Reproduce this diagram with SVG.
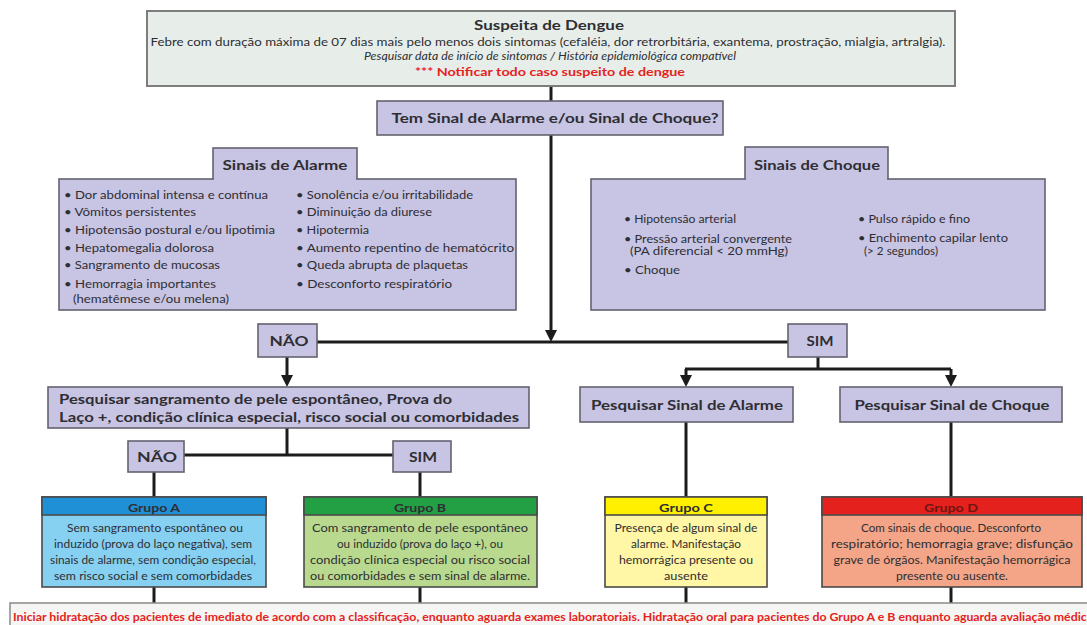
<svg xmlns="http://www.w3.org/2000/svg" width="1087" height="625" viewBox="0 0 1087 625">
<defs>
<style>
text{font-family:Lato,"Liberation Sans",sans-serif;fill:#2e2e33;dominant-baseline:central}
.lav{fill:#c8c4e3;stroke:#64636f;stroke-width:1.6}
.b{font-weight:bold}
.c{text-anchor:middle}
.t13{font-size:13.5px}
.t12{font-size:13px}
.t11{font-size:12px}
.t10{font-size:11.5px}
.red{fill:#e5231d}
.gbox{stroke:#4a4a4a;stroke-width:1.6}
.con line{stroke:#1c1c1c;stroke-width:3;fill:none}
</style>
<marker id="ah" viewBox="0 0 12 12" markerUnits="userSpaceOnUse" markerWidth="12" markerHeight="12" refX="4" refY="6" orient="auto">
<path d="M0,0 L12,6 L0,12 z" fill="#1c1c1c"/>
</marker>
</defs>
<rect width="1087" height="625" fill="#ffffff"/>

<g class="con">
<line x1="551" y1="86" x2="551" y2="102"/>
<line x1="551" y1="135" x2="551" y2="334" marker-end="url(#ah)"/>
<line x1="317" y1="342" x2="788" y2="342"/>
<line x1="287" y1="357" x2="287" y2="379" marker-end="url(#ah)"/>
<line x1="818" y1="357" x2="818" y2="369"/>
<line x1="685" y1="369" x2="951" y2="369"/>
<line x1="686" y1="369" x2="686" y2="379" marker-end="url(#ah)"/>
<line x1="951" y1="369" x2="951" y2="379" marker-end="url(#ah)"/>
<line x1="287" y1="428" x2="287" y2="455"/>
<line x1="184" y1="455" x2="393" y2="455"/>
<line x1="154" y1="472" x2="154" y2="497"/>
<line x1="420" y1="472" x2="420" y2="497"/>
<line x1="686" y1="422" x2="686" y2="497"/>
<line x1="951" y1="422" x2="951" y2="497"/>
<line x1="154" y1="587" x2="154" y2="603"/>
<line x1="420" y1="587" x2="420" y2="603"/>
<line x1="686" y1="587" x2="686" y2="603"/>
<line x1="951" y1="587" x2="951" y2="603"/>
</g>

<g id="suspeita">
<rect x="147" y="11" width="808" height="75" fill="#e7eeea" stroke="#7d7d7d" stroke-width="2"/>
<text class="b c t13" x="549" y="25" textLength="150" lengthAdjust="spacingAndGlyphs">Suspeita de Dengue</text>
<text class="c t11" x="548" y="41" textLength="795" lengthAdjust="spacingAndGlyphs">Febre com duração máxima de 07 dias mais pelo menos dois sintomas (cefaléia, dor retrorbitária, exantema, prostração, mialgia, artralgia).</text>
<text class="c t10" x="550" y="55" font-style="italic" textLength="372" lengthAdjust="spacingAndGlyphs">Pesquisar data de início de sintomas / História epidemiológica compatível</text>
<text class="b c t11 red" x="550" y="71" textLength="270" lengthAdjust="spacingAndGlyphs">*** Notificar todo caso suspeito de dengue</text>
</g>

<g id="pergunta">
<rect class="lav" x="377" y="101" width="346" height="34"/>
<text class="b c t13" x="555" y="118" textLength="327" lengthAdjust="spacingAndGlyphs">Tem Sinal de Alarme e/ou Sinal de Choque?</text>
</g>

<g id="sinais-alarme">
<rect class="lav" x="213" y="148" width="144" height="32"/>
<rect class="lav" x="59" y="179" width="457" height="131"/>
<rect x="214" y="177" width="142" height="4" fill="#c8c4e3"/>
<text class="b c t13" x="285" y="165" textLength="125" lengthAdjust="spacingAndGlyphs">Sinais de Alarme</text>
<g class="t11">
<text x="64" y="194" textLength="204" lengthAdjust="spacingAndGlyphs">• Dor abdominal intensa e contínua</text>
<text x="64" y="211" textLength="132" lengthAdjust="spacingAndGlyphs">• Vômitos persistentes</text>
<text x="64" y="229" textLength="211" lengthAdjust="spacingAndGlyphs">• Hipotensão postural e/ou lipotimia</text>
<text x="64" y="247" textLength="150" lengthAdjust="spacingAndGlyphs">• Hepatomegalia dolorosa</text>
<text x="64" y="264" textLength="156" lengthAdjust="spacingAndGlyphs">• Sangramento de mucosas</text>
<text x="64" y="283" textLength="152" lengthAdjust="spacingAndGlyphs">• Hemorragia importantes</text>
<text x="73" y="298" textLength="156" lengthAdjust="spacingAndGlyphs">(hematêmese e/ou melena)</text>
<text x="296" y="194" textLength="177" lengthAdjust="spacingAndGlyphs">• Sonolência e/ou irritabilidade</text>
<text x="296" y="211" textLength="136" lengthAdjust="spacingAndGlyphs">• Diminuição da diurese</text>
<text x="296" y="229" textLength="73" lengthAdjust="spacingAndGlyphs">• Hipotermia</text>
<text x="296" y="247" textLength="218" lengthAdjust="spacingAndGlyphs">• Aumento repentino de hematócrito</text>
<text x="296" y="264" textLength="172" lengthAdjust="spacingAndGlyphs">• Queda abrupta de plaquetas</text>
<text x="296" y="283" textLength="156" lengthAdjust="spacingAndGlyphs">• Desconforto respiratório</text>
</g>
</g>

<g id="sinais-choque">
<rect class="lav" x="745" y="147" width="143" height="33"/>
<rect class="lav" x="591" y="179" width="454" height="131"/>
<rect x="746" y="177" width="141" height="4" fill="#c8c4e3"/>
<text class="b c t13" x="817" y="165" textLength="126" lengthAdjust="spacingAndGlyphs">Sinais de Choque</text>
<g class="t10">
<text x="624" y="218" textLength="112" lengthAdjust="spacingAndGlyphs">• Hipotensão arterial</text>
<text x="624" y="238" textLength="168" lengthAdjust="spacingAndGlyphs">• Pressão arterial convergente</text>
<text x="630" y="250" textLength="158" lengthAdjust="spacingAndGlyphs">(PA diferencial &lt; 20 mmHg)</text>
<text x="624" y="269" textLength="56" lengthAdjust="spacingAndGlyphs">• Choque</text>
<text x="858" y="218" textLength="112" lengthAdjust="spacingAndGlyphs">• Pulso rápido e fino</text>
<text x="858" y="237" textLength="150" lengthAdjust="spacingAndGlyphs">• Enchimento capilar lento</text>
<text x="864" y="250" textLength="74" lengthAdjust="spacingAndGlyphs">(&gt; 2 segundos)</text>
</g>
</g>

<g id="nao1">
<rect class="lav" x="258" y="324" width="59" height="33"/>
<text class="b c t13" x="289" y="341" textLength="39" lengthAdjust="spacingAndGlyphs">NÃO</text>
</g>
<g id="sim1">
<rect class="lav" x="788" y="324" width="59" height="33"/>
<text class="b c t13" x="820" y="341" textLength="27" lengthAdjust="spacingAndGlyphs">SIM</text>
</g>

<g id="pesquisar-sangramento">
<rect class="lav" x="48" y="387" width="481" height="41"/>
<text class="b t12" x="59" y="399" textLength="393" lengthAdjust="spacingAndGlyphs">Pesquisar sangramento de pele espontâneo, Prova do</text>
<text class="b t12" x="59" y="417" textLength="460" lengthAdjust="spacingAndGlyphs">Laço +, condição clínica especial, risco social ou comorbidades</text>
</g>

<g id="pesquisar-alarme">
<rect class="lav" x="580" y="387" width="213" height="35"/>
<text class="b c t12" x="687" y="405" textLength="192" lengthAdjust="spacingAndGlyphs">Pesquisar Sinal de Alarme</text>
</g>
<g id="pesquisar-choque">
<rect class="lav" x="840" y="387" width="222" height="35"/>
<text class="b c t12" x="952" y="405" textLength="195" lengthAdjust="spacingAndGlyphs">Pesquisar Sinal de Choque</text>
</g>

<g id="nao2">
<rect class="lav" x="128" y="441" width="56" height="31"/>
<text class="b c t13" x="157" y="457" textLength="40" lengthAdjust="spacingAndGlyphs">NÃO</text>
</g>
<g id="sim2">
<rect class="lav" x="393" y="441" width="58" height="31"/>
<text class="b c t13" x="423" y="457" textLength="28" lengthAdjust="spacingAndGlyphs">SIM</text>
</g>

<g id="grupo-a">
<rect class="gbox" x="42" y="497" width="224" height="90" fill="#86d0f2"/>
<rect class="gbox" x="42" y="497" width="224" height="18" fill="#1f8fd6"/>
<text class="b c t11" x="154" y="507" textLength="52" lengthAdjust="spacingAndGlyphs">Grupo A</text>
<g class="t10">
<text class="c" x="155" y="527" textLength="176" lengthAdjust="spacingAndGlyphs">Sem sangramento espontâneo ou</text>
<text class="c" x="153" y="543" textLength="198" lengthAdjust="spacingAndGlyphs">induzido (prova do laço negativa), sem</text>
<text class="c" x="153" y="559" textLength="206" lengthAdjust="spacingAndGlyphs">sinais de alarme, sem condição especial,</text>
<text class="c" x="153" y="575" textLength="198" lengthAdjust="spacingAndGlyphs">sem risco social e sem comorbidades</text>
</g>
</g>

<g id="grupo-b">
<rect class="gbox" x="304" y="497" width="233" height="90" fill="#b9d98e"/>
<rect class="gbox" x="304" y="497" width="233" height="18" fill="#23a044"/>
<text class="b c t11" x="420" y="507" textLength="52" lengthAdjust="spacingAndGlyphs">Grupo B</text>
<g class="t10">
<text class="c" x="420" y="527" textLength="216" lengthAdjust="spacingAndGlyphs">Com sangramento de pele espontâneo</text>
<text class="c" x="420" y="543" textLength="166" lengthAdjust="spacingAndGlyphs">ou induzido (prova do laço +), ou</text>
<text class="c" x="420" y="559" textLength="220" lengthAdjust="spacingAndGlyphs">condição clínica especial ou risco social</text>
<text class="c" x="420" y="575" textLength="220" lengthAdjust="spacingAndGlyphs">ou comorbidades e sem sinal de alarme.</text>
</g>
</g>

<g id="grupo-c">
<rect class="gbox" x="605" y="497" width="162" height="90" fill="#fff6a6"/>
<rect class="gbox" x="605" y="497" width="162" height="18" fill="#fff000"/>
<text class="b c t11" x="686" y="507" textLength="54" lengthAdjust="spacingAndGlyphs">Grupo C</text>
<g class="t10">
<text class="c" x="686" y="527" textLength="143" lengthAdjust="spacingAndGlyphs">Presença de algum sinal de</text>
<text class="c" x="686" y="543" textLength="110" lengthAdjust="spacingAndGlyphs">alarme. Manifestação</text>
<text class="c" x="686" y="559" textLength="134" lengthAdjust="spacingAndGlyphs">hemorrágica presente ou</text>
<text class="c" x="686" y="575" textLength="44" lengthAdjust="spacingAndGlyphs">ausente</text>
</g>
</g>

<g id="grupo-d">
<rect class="gbox" x="822" y="497" width="260" height="90" fill="#f4a587"/>
<rect class="gbox" x="822" y="497" width="260" height="18" fill="#e5211d"/>
<text class="b c t11" x="951" y="507" textLength="54" lengthAdjust="spacingAndGlyphs" style="fill:#6e1512">Grupo D</text>
<g class="t10">
<text class="c" x="951" y="527" textLength="180" lengthAdjust="spacingAndGlyphs">Com sinais de choque. Desconforto</text>
<text class="c" x="952" y="543" textLength="242" lengthAdjust="spacingAndGlyphs">respiratório; hemorragia grave; disfunção</text>
<text class="c" x="952" y="559" textLength="237" lengthAdjust="spacingAndGlyphs">grave de órgãos. Manifestação hemorrágica</text>
<text class="c" x="952" y="575" textLength="112" lengthAdjust="spacingAndGlyphs">presente ou ausente.</text>
</g>
</g>

<g id="hidratacao">
<rect x="10" y="603" width="1090" height="30" fill="#f5f5f3" stroke="#8a8a8a" stroke-width="1.5"/>
<text class="b t10 red" x="13" y="616" textLength="1080" lengthAdjust="spacingAndGlyphs">Iniciar hidratação dos pacientes de imediato de acordo com a classificação, enquanto aguarda exames laboratoriais. Hidratação oral para pacientes do Grupo A e B enquanto aguarda avaliação médica</text>
</g>
</svg>
